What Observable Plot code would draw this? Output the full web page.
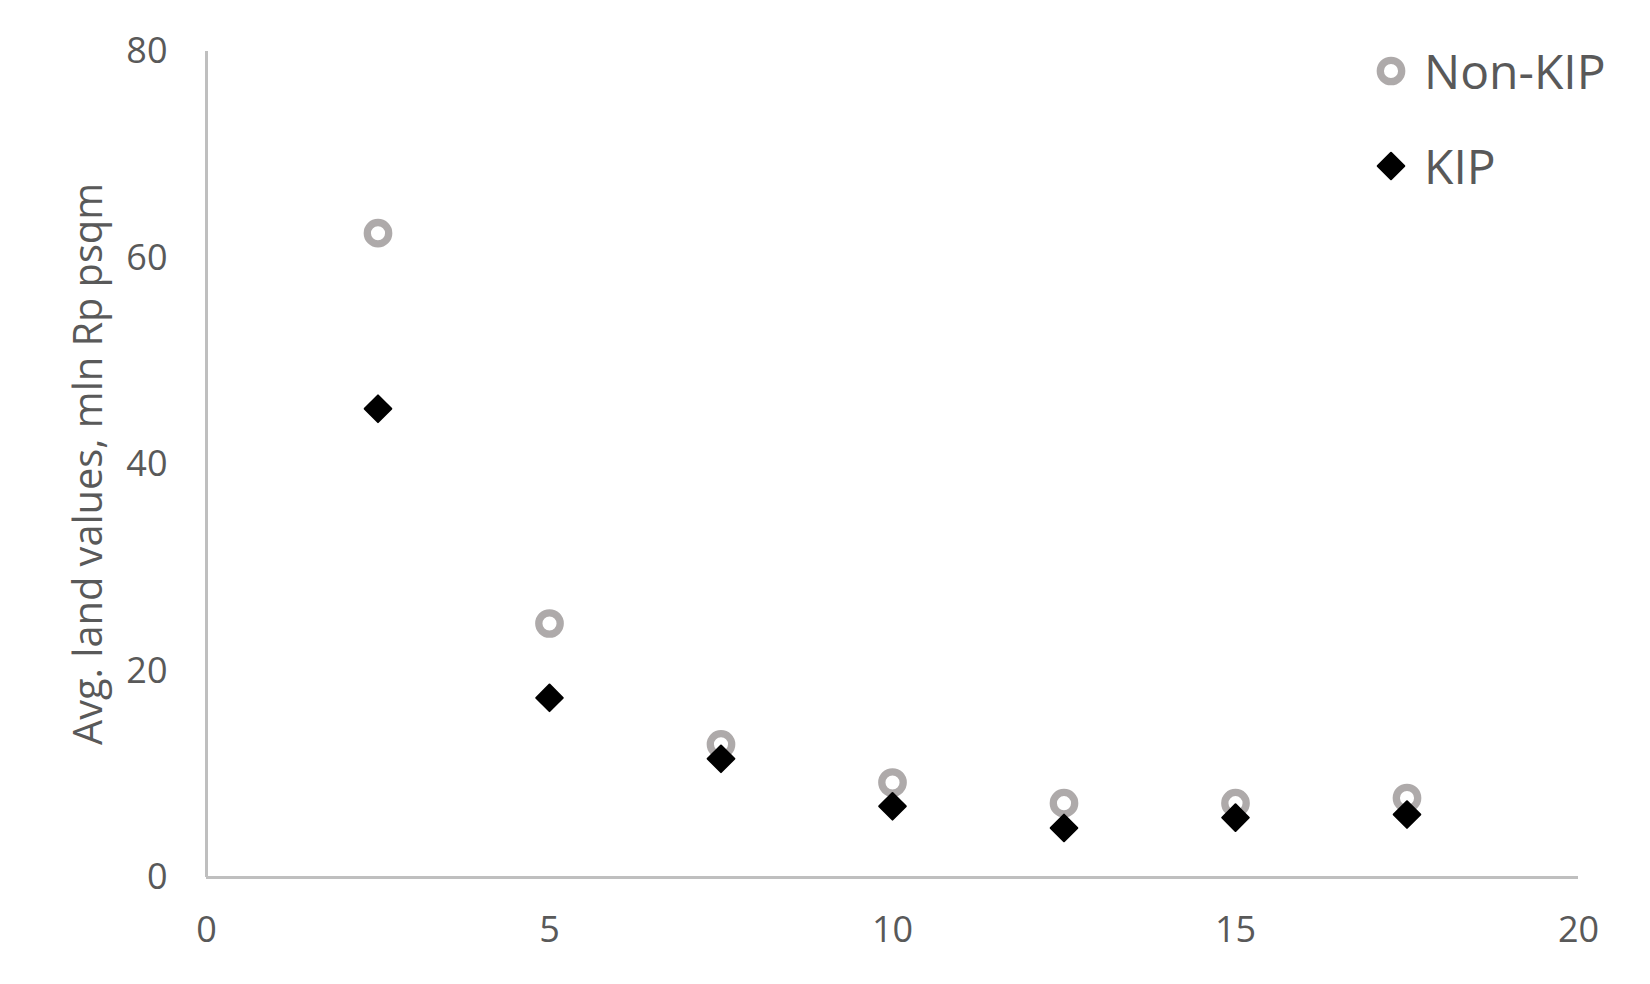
<!DOCTYPE html>
<html>
<head>
<meta charset="utf-8">
<script src="https://cdn.jsdelivr.net/npm/d3@7"></script>
<script src="https://cdn.jsdelivr.net/npm/@observablehq/plot@0.6"></script>
<style>
  html, body { margin: 0; padding: 0; background: #fff; }
  #wrap { position: relative; width: 1650px; height: 984px; font-family: "Open Sans", sans-serif; }
  .legend { position: absolute; left: 1366px; color: #595959; font-size: 48px; line-height: 1; display: flex; align-items: center; }
</style>
</head>
<body>
<div id="wrap"></div>
<script>
// Data
const distance = [2.5, 5, 7.5, 10, 12.5, 15, 17.5];
const nonKIP = [62.4, 24.6, 12.9, 9.2, 7.2, 7.2, 7.7];
const KIP = [45.4, 17.4, 11.5, 6.9, 4.8, 5.8, 6.1];
const xTicks = [0, 5, 10, 15, 20];
const yTicks = [0, 20, 40, 60, 80];
const seriesNames = ["Non-KIP", "KIP"];
const yLabel = "Avg. land values, mln Rp psqm";

const nonRows = distance.map((d, i) => ({x: d, y: nonKIP[i]}));
const kipRows = distance.map((d, i) => ({x: d, y: KIP[i]}));

const textColor = "#595959";
const axisColor = "#bfbfbf";
const greyColor = "#aeaaaa";

const chart = Plot.plot({
  width: 1650,
  height: 984,
  marginLeft: 206,
  marginRight: 72,
  marginTop: 51,
  marginBottom: 107,
  style: {fontFamily: "Open Sans, sans-serif", fontSize: "35px", color: textColor, background: "#fff", overflow: "visible"},
  x: {domain: [0, 20], ticks: xTicks},
  y: {domain: [0, 80], ticks: yTicks},
  marks: [
    Plot.axisX({ticks: xTicks, tickSize: 0, tickPadding: 39, label: null, fontSize: 36, fill: textColor}),
    Plot.axisY({ticks: yTicks, tickSize: 0, tickPadding: 39, label: null, fontSize: 36, fill: textColor}),
    Plot.ruleY([0], {stroke: axisColor, strokeWidth: 3}),
    Plot.ruleX([0], {stroke: axisColor, strokeWidth: 3}),
    Plot.dot(nonRows, {x: "x", y: "y", r: 10.7, stroke: greyColor, strokeWidth: 7.3, fill: "none"}),
    Plot.dot(kipRows, {x: "x", y: "y", symbol: "diamond2", r: 12, fill: "#000", stroke: "#000", strokeWidth: 2, strokeLinejoin: "round"})
  ]
});

const wrap = document.getElementById("wrap");
wrap.appendChild(chart);

// y-axis title
const svg = d3.select(chart);
svg.append("text")
  .attr("transform", "translate(102,464) rotate(-90)")
  .attr("text-anchor", "middle")
  .attr("fill", textColor)
  .attr("textLength", 562)
  .attr("lengthAdjust", "spacingAndGlyphs")
  .style("font-family", "Open Sans, sans-serif")
  .style("font-size", "40px")
  .text(yLabel);

// Legend (HTML overlay)
const legendItems = [
  {name: seriesNames[0], top: 46, icon: '<svg width="50" height="50" viewBox="-25 -25 50 50"><circle r="10.7" fill="none" stroke="' + greyColor + '" stroke-width="7.3"/></svg>'},
  {name: seriesNames[1], top: 141, icon: '<svg width="50" height="50" viewBox="-25 -25 50 50"><path d="M0,-13.3L13.3,0L0,13.3L-13.3,0Z" fill="#000" stroke="#000" stroke-width="2" stroke-linejoin="round"/></svg>'}
];
for (const it of legendItems) {
  const div = document.createElement("div");
  div.className = "legend";
  div.style.top = it.top + "px";
  div.innerHTML = it.icon + '<span style="margin-left:8px">' + it.name + '</span>';
  wrap.appendChild(div);
}
</script>
</body>
</html>
